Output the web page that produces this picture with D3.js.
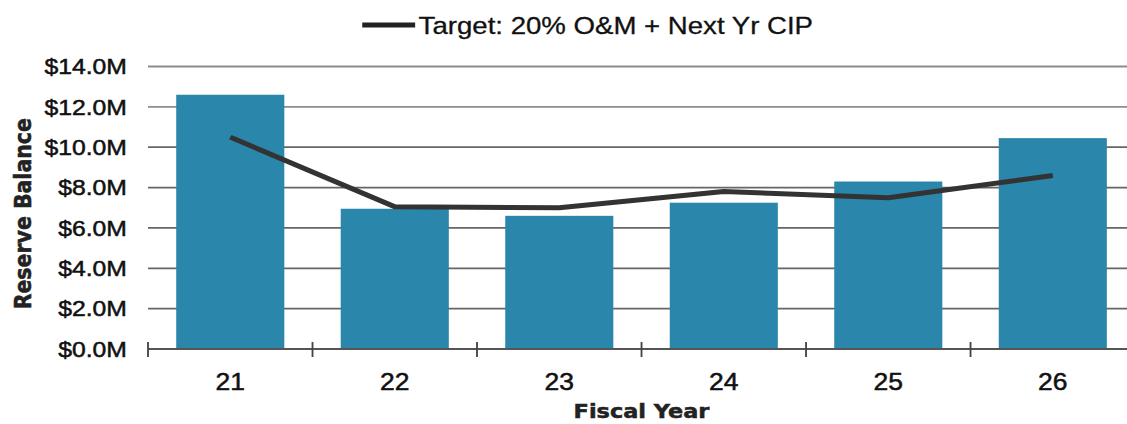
<!DOCTYPE html>
<html>
<head>
<meta charset="utf-8">
<script src="https://cdn.jsdelivr.net/npm/d3@7"></script>
<style>
  html, body { margin: 0; padding: 0; background: #fff; }
  svg { display: block; }
</style>
</head>
<body>
<svg id="chart" width="1127" height="424"></svg>
<script>
// Fiscal years and reserve balances ($M)
const years = ["21", "22", "23", "24", "25", "26"];
const reserveBalance = [12.6, 6.95, 6.6, 7.25, 8.3, 10.45];
const targetBalance = [10.5, 7.05, 7.0, 7.8, 7.5, 8.6];
const yTicks = [0, 2, 4, 6, 8, 10, 12, 14];
const legendLabel = "Target: 20% O&M + Next Yr CIP";

const W = 1127, H = 424;
const sx = 1.15;               // horizontal stretch of the whole drawing
const innerW = W / sx;

const svg = d3.select("#chart");
const g = svg.append("g").attr("transform", `scale(${sx},1)`);

const left = 128.7, step = 143.05;
const x = d3.scaleBand()
  .domain(years)
  .range([left, left + step * years.length])
  .paddingInner(0.343)
  .paddingOuter(0.1715);

const y = d3.scaleLinear().domain([0, 14]).range([349, 66.5]);

const labelFont = "Liberation Sans, Arial, sans-serif";
const titleFont = "DejaVu Sans, sans-serif";

// horizontal gridlines
g.append("g")
  .selectAll("line")
  .data(yTicks.filter(d => d > 0))
  .join("line")
  .attr("x1", left).attr("x2", innerW + 10)
  .attr("y1", d => y(d)).attr("y2", d => y(d))
  .attr("stroke", d => d >= 12 ? "#8c8c8c" : "#666")
  .attr("stroke-width", 1.8);

// y tick labels
g.append("g")
  .selectAll("text")
  .data(yTicks)
  .join("text")
  .attr("x", 110.4)
  .attr("y", d => y(d))
  .attr("dy", "0.36em")
  .attr("text-anchor", "end")
  .attr("font-family", labelFont)
  .attr("font-size", 21.5)
  .attr("fill", "#111")
  .attr("stroke", "#111").attr("stroke-width", 0.5)
  .text(d => "$" + d.toFixed(1) + "M");

// bars
g.append("g")
  .selectAll("rect")
  .data(years)
  .join("rect")
  .attr("x", d => x(d))
  .attr("width", x.bandwidth())
  .attr("y", (d, i) => y(reserveBalance[i]))
  .attr("height", (d, i) => y(0) - y(reserveBalance[i]))
  .attr("fill", "#2a86ab");

// x axis line and category-boundary ticks
g.append("line")
  .attr("x1", left).attr("x2", innerW + 10)
  .attr("y1", y(0)).attr("y2", y(0))
  .attr("stroke", "#555").attr("stroke-width", 2);

g.append("g")
  .selectAll("line")
  .data(d3.range(years.length + 1))
  .join("line")
  .attr("x1", i => left + i * step).attr("x2", i => left + i * step)
  .attr("y1", y(0) - 7).attr("y2", y(0) + 8)
  .attr("stroke", "#444").attr("stroke-width", 1.6);

// x category labels
g.append("g")
  .selectAll("text")
  .data(years)
  .join("text")
  .attr("x", d => x(d) + x.bandwidth() / 2)
  .attr("y", 390)
  .attr("text-anchor", "middle")
  .attr("font-family", labelFont)
  .attr("font-size", 23)
  .attr("fill", "#111")
  .attr("stroke", "#111").attr("stroke-width", 0.5)
  .text(d => d);

// target line
const line = d3.line()
  .x((d, i) => x(years[i]) + x.bandwidth() / 2)
  .y(d => y(d));

g.append("path")
  .datum(targetBalance)
  .attr("d", line)
  .attr("fill", "none")
  .attr("stroke", "#333")
  .attr("stroke-width", 5)
  .attr("stroke-linejoin", "round");

// axis titles
g.append("text")
  .attr("x", left + 3 * step)
  .attr("y", 418)
  .attr("text-anchor", "middle")
  .attr("font-family", titleFont)
  .attr("font-weight", "bold")
  .attr("font-size", 19.5)
  .attr("fill", "#222")
  .attr("stroke", "#222").attr("stroke-width", 0.5)
  .text("Fiscal Year");

g.append("text")
  .attr("transform", `translate(27,${y(7) + 6}) rotate(-90)`)
  .attr("text-anchor", "middle")
  .attr("font-family", titleFont)
  .attr("font-weight", "bold")
  .attr("font-size", 20.5)
  .attr("fill", "#222")
  .attr("stroke", "#222").attr("stroke-width", 0.5)
  .text("Reserve Balance");

// legend
const legend = g.append("g");
legend.append("line")
  .attr("x1", 315).attr("x2", 361)
  .attr("y1", 25).attr("y2", 25)
  .attr("stroke", "#222").attr("stroke-width", 5);
legend.append("text")
  .attr("x", 364)
  .attr("y", 34)
  .attr("font-family", labelFont)
  .attr("font-size", 24)
  .attr("fill", "#111")
  .attr("stroke", "#111").attr("stroke-width", 0.3)
  .text(legendLabel);
</script>
</body>
</html>
